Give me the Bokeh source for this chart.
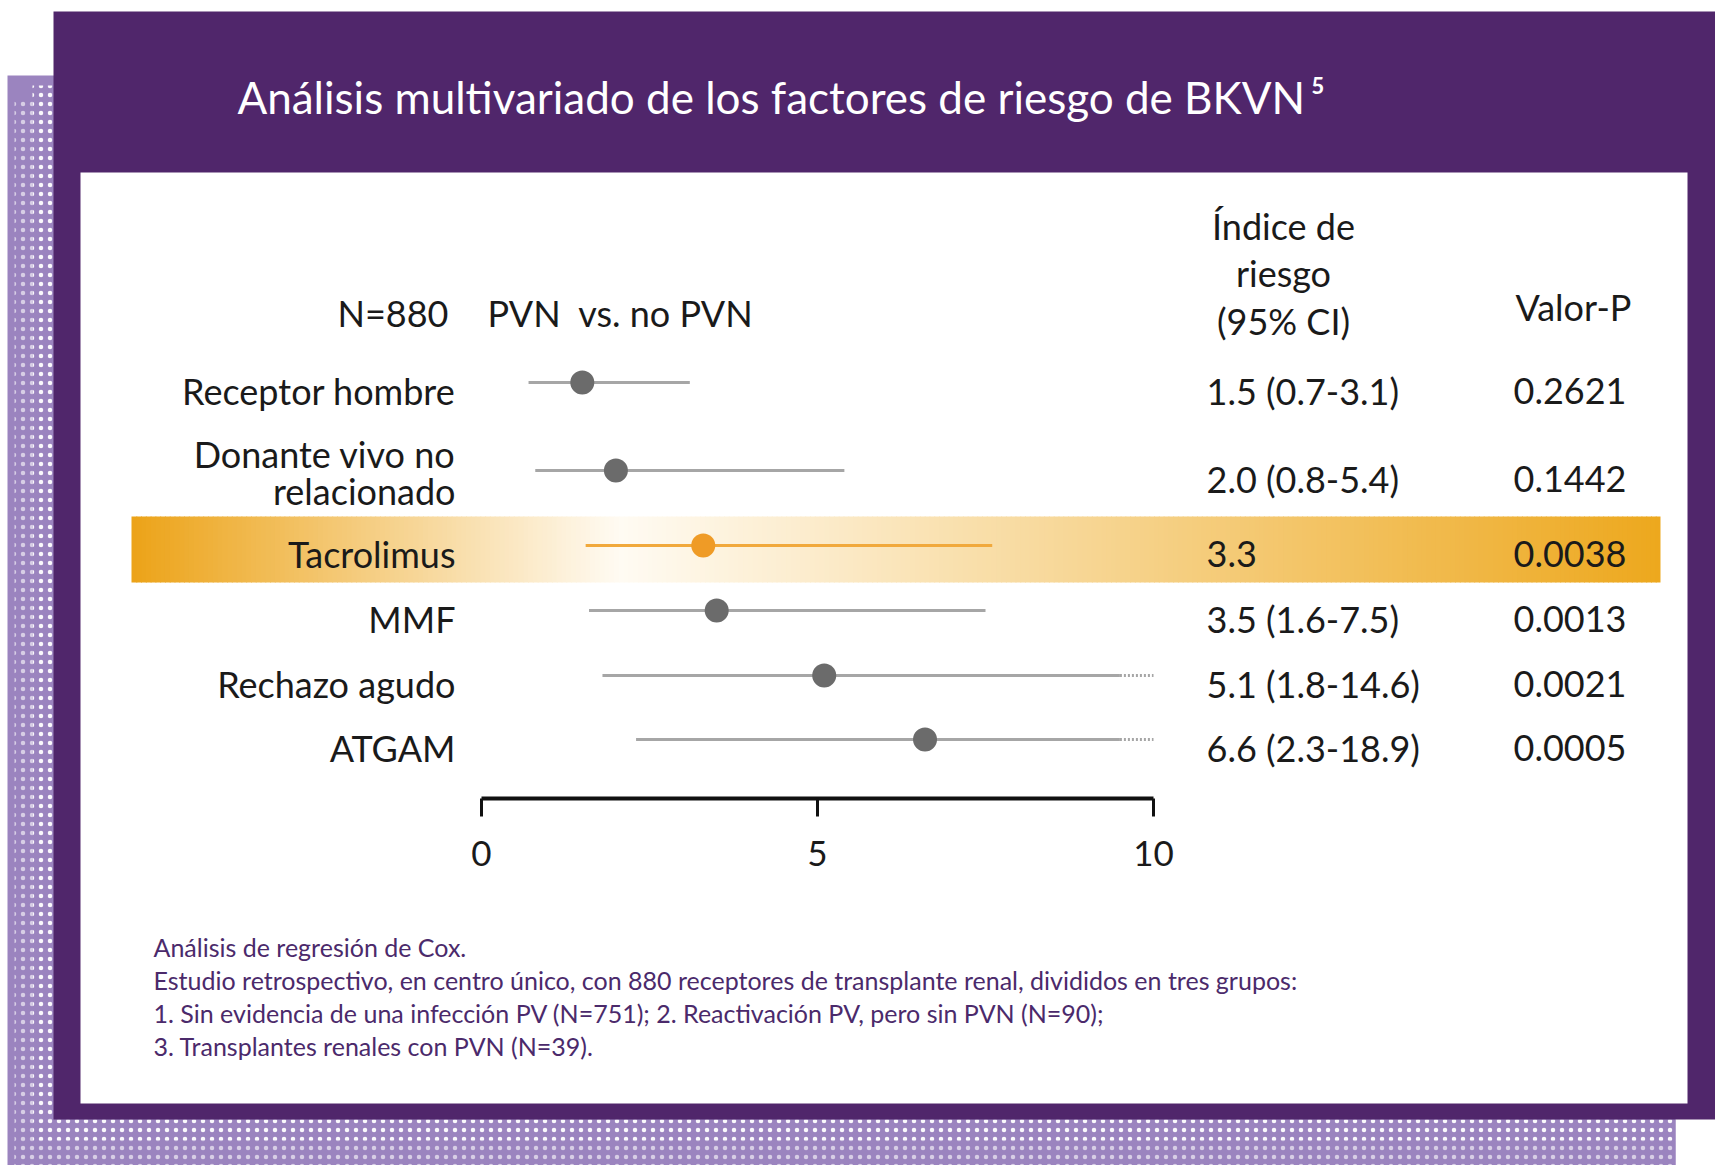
from bokeh.plotting import figure
from bokeh.models import Range1d, ColumnDataSource
from bokeh.core.properties import value
from bokeh.embed import file_html
from bokeh.resources import INLINE

# ---------------- data ----------------
TITLE = "Análisis multivariado de los factores de riesgo de BKVN\u2009\u2075"
factors = ["Receptor hombre", "Donante vivo no\nrelacionado", "Tacrolimus",
           "MMF", "Rechazo agudo", "ATGAM"]
hazard_ratio = [1.5, 2.0, 3.3, 3.5, 5.1, 6.6]
ci_low = [0.7, 0.8, 1.55, 1.6, 1.8, 2.3]
ci_high = [3.1, 5.4, 7.6, 7.5, 14.6, 18.9]
hr_labels = ["1.5 (0.7-3.1)", "2.0 (0.8-5.4)", "3.3", "3.5 (1.6-7.5)",
             "5.1 (1.8-14.6)", "6.6 (2.3-18.9)"]
p_values = ["0.2621", "0.1442", "0.0038", "0.0013", "0.0021", "0.0005"]
highlight = "Tacrolimus"
axis_ticks = [0, 5, 10]
axis_tick_labels = ["0", "5", "10"]
axis_max = 10
header_n = "N=880"
header_cmp = "PVN\u00a0\u00a0vs. no PVN"
header_hr = "Índice de\nriesgo\n(95% CI)"
header_p = "Valor-P"
footnotes = [
    "Análisis de regresión de Cox.",
    "Estudio retrospectivo, en centro único, con 880 receptores de transplante renal, divididos en tres grupos:",
    "1. Sin evidencia de una infección PV (N=751); 2. Reactivación PV, pero sin PVN (N=90);",
    "3. Transplantes renales con PVN (N=39).",
]

# ---------------- layout / style ----------------
W, H = 1715, 1165
OX, OY = 0, 0
X0_PX, PX_PER_UNIT = 481, 67.2
ROW_Y = [382, 470, 545, 610, 675, 739]
AXIS_Y = 798
FONT = value("Lato")
FS = "36px"
DARK = "#50266B"
LIGHT = "#9B84BF"
GRAY_LINE = "#A6A6A6"
GRAY_DOT = "#6B6B6B"
ORANGE_LINE = "#F1A93C"
ORANGE_DOT = "#EF9B26"
TEXT = "#1A1A1A"

p = figure(width=W, height=H, x_range=Range1d(OX, OX + W), y_range=Range1d(OY + H, OY),
           min_border=0, x_axis_type=None, y_axis_type=None, toolbar_location=None,
           output_backend="svg", outline_line_color=None, background_fill_color="white",
           border_fill_color="white")
p.extra_x_ranges = {"hr": Range1d((OX - X0_PX) / PX_PER_UNIT, (OX + W - X0_PX) / PX_PER_UNIT)}

# ---- frame decoration ----
p.quad(left=7, right=1675, top=75, bottom=1170, fill_color=LIGHT, line_color=None)
p.quad(left=[14, 14], right=[32, 1675], top=[100, 1140], bottom=[1165, 1165],
       fill_color=LIGHT, line_color=None, hatch_pattern="dot", hatch_color="white",
       hatch_scale=9, hatch_weight=3, hatch_alpha=0.6)
p.quad(left=[32, 32], right=[53, 1675], top=[85, 1119], bottom=[1140, 1140],
       fill_color=LIGHT, line_color=None, hatch_pattern="dot", hatch_color="white",
       hatch_scale=9, hatch_weight=6, hatch_alpha=0.95)
p.quad(left=53, right=1720, top=11, bottom=1119, fill_color=DARK, line_color=None)
p.quad(left=80, right=1687, top=172, bottom=1103, fill_color="white", line_color=None)

p.text(x=[237], y=[96], text=[TITLE], text_color="white", text_font=FONT,
       text_font_size="44px", text_baseline="middle", text_align="left")

# ---- highlight band (gradient) ----
hi = factors.index(highlight)
band_l, band_r, band_h = 131, 1660, 66
white_x = 620
c_left = (236, 163, 24)
c_mid = (255, 251, 243)
c_right = (237, 168, 30)
n = 320
step = (band_r - band_l) / n
lefts, rights, cols = [], [], []
for i in range(n):
    xl = band_l + i * step
    xc = xl + step / 2
    if xc < white_x:
        t = (xc - band_l) / (white_x - band_l)
        a, b = c_left, c_mid
    else:
        t = (xc - white_x) / (band_r - white_x)
        a, b = c_mid, c_right
    c = tuple(int(round(a[k] + (b[k] - a[k]) * t)) for k in range(3))
    lefts.append(xl)
    rights.append(min(xl + step + 1, band_r))
    cols.append("#%02x%02x%02x" % c)
p.quad(left=lefts, right=rights, top=ROW_Y[hi] + 4 - band_h / 2,
       bottom=ROW_Y[hi] + 4 + band_h / 2, fill_color=cols, line_color=None)

# ---- CIs & points ----
solid_hi = [axis_max - 0.5 if h > axis_max else h for h in ci_high]
is_hi = [f == highlight for f in factors]
line_cols = [ORANGE_LINE if h else GRAY_LINE for h in is_hi]
dot_cols = [ORANGE_DOT if h else GRAY_DOT for h in is_hi]
src = ColumnDataSource(dict(y=ROW_Y, lo=ci_low, hi=solid_hi, hr=hazard_ratio,
                            lc=line_cols, dc=dot_cols))
p.segment(x0="lo", x1="hi", y0="y", y1="y", line_color="lc", line_width=2.8,
          source=src, x_range_name="hr")
ext = [(y, s) for y, s, h in zip(ROW_Y, solid_hi, ci_high) if h > axis_max]
if ext:
    p.segment(x0=[e[1] for e in ext], x1=[axis_max] * len(ext), y0=[e[0] for e in ext],
              y1=[e[0] for e in ext], line_color=GRAY_LINE, line_width=2.8,
              line_dash="2 2", x_range_name="hr")
p.scatter(x="hr", y="y", size=24, fill_color="dc", line_color=None, source=src,
          x_range_name="hr")

# ---- axis ----
p.segment(x0=[axis_ticks[0]], x1=[axis_ticks[-1]], y0=[AXIS_Y], y1=[AXIS_Y],
          line_color="#111111", line_width=4, x_range_name="hr")
p.segment(x0=axis_ticks, x1=axis_ticks, y0=[AXIS_Y] * len(axis_ticks),
          y1=[AXIS_Y + 18] * len(axis_ticks), line_color="#111111", line_width=3,
          x_range_name="hr")
p.text(x=axis_ticks, y=[853] * len(axis_ticks), text=axis_tick_labels, text_color=TEXT,
       text_font=FONT, text_font_size="35px", text_align="center", text_baseline="middle",
       x_range_name="hr")

# ---- text columns ----
ty = [y + 8 for y in ROW_Y]
label_y = [y + 8 - 6 * f.count("\n") for y, f in zip(ROW_Y, factors)]
p.text(x=[455] * len(factors), y=label_y, text=factors, text_color=TEXT, text_font=FONT,
       text_font_size=FS, text_align="right", text_baseline="middle", text_line_height=0.82)
p.text(x=[1206] * len(factors), y=ty, text=hr_labels, text_color=TEXT, text_font=FONT,
       text_font_size=FS, text_align="left", text_baseline="middle")
p.text(x=[1513] * len(factors), y=ty, text=p_values, text_color=TEXT, text_font=FONT,
       text_font_size=FS, text_align="left", text_baseline="middle")

p.text(x=[448], y=[312], text=[header_n], text_color=TEXT, text_font=FONT,
       text_font_size=FS, text_align="right", text_baseline="middle")
p.text(x=[487], y=[312], text=[header_cmp], text_color=TEXT, text_font=FONT,
       text_font_size=FS, text_align="left", text_baseline="middle")
p.text(x=[1283], y=[273], text=[header_hr], text_color=TEXT, text_font=FONT,
       text_font_size=FS, text_align="center", text_baseline="middle",
       text_line_height=1.09)
p.text(x=[1515], y=[306], text=[header_p], text_color=TEXT, text_font=FONT,
       text_font_size=FS, text_align="left", text_baseline="middle")

# ---- footnotes ----
p.text(x=[153] * len(footnotes), y=[946 + 33.3 * i for i in range(len(footnotes))],
       text=footnotes, text_color="#4B2A6B", text_font=FONT, text_font_size="25px",
       text_align="left", text_baseline="middle")

open("out.html", "w").write(file_html(p, INLINE))
